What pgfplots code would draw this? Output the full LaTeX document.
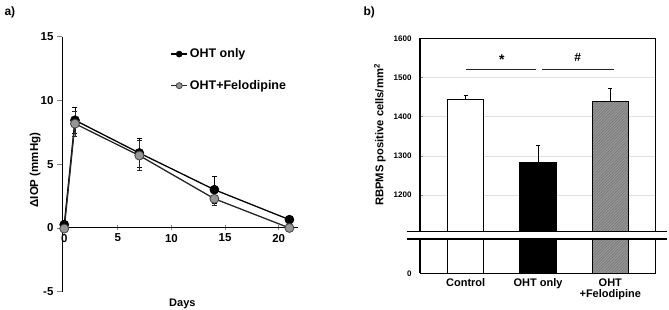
\documentclass[border=0pt]{standalone}
\usepackage{pgfplots}
\pgfplotsset{compat=1.18}
\usepackage{fontspec}
\setmainfont{Liberation Sans}
\usetikzlibrary{patterns.meta}
\newcommand{\fs}[1]{\fontsize{#1}{#1}\selectfont\bfseries}
\definecolor{felo}{RGB}{150,150,150}
\begin{document}
\begin{tikzpicture}
\useasboundingbox (0,0) rectangle (669pt,310pt);
\node[anchor=west] at (1pt,298pt) {\fs{12}a)};
\node[anchor=west] at (360pt,298pt) {\fs{12}b)};
% ---------- Panel a ----------
\begin{axis}[
  at={(62pt,18.3pt)}, anchor=south west, scale only axis,
  width=236pt, height=255pt,
  xmin=-0.21, xmax=21.8, ymin=-5, ymax=15,
  axis x line=middle, axis y line=left,
  axis line style={-, line width=0.9pt},
  hide obscured x ticks=false, hide obscured y ticks=false,
  xtick={0,5,10,15,20}, ytick={-5,0,5,10,15},
  tick style={line width=0.8pt},
  major tick length=5pt,
  xtick align=center, ytick align=outside,
  /pgf/number format/assume math mode=true,
  tick label style={font=\fs{11.5}},
  xlabel={Days}, ylabel={ΔIOP (mmHg)},
  xlabel style={font=\fs{11}, at={(axis description cs:0.51,0)}, anchor=north, yshift=-4pt},
  ylabel style={font=\fs{11.5}, at={(axis description cs:-0.114,0.477)}, anchor=center},
  legend style={draw=none, fill=none, at={(axis description cs:0.455,0.965)}, anchor=north west,
    font=\fs{12.5}, row sep=17pt, inner sep=1pt},
  legend cell align=left,
  legend image code/.code={\draw[#1, mark size=3pt, mark repeat=2, mark phase=2] plot coordinates {(0pt,0pt)(8pt,0pt)(16pt,0pt)};},
  clip=false,
]
\addplot[black, line width=1.3pt, mark=*, mark size=4.5pt, mark options={fill=black, line width=0.6pt},
  error bars/.cd, y dir=both, y explicit, error bar style={black, line width=0.8pt},
  error mark options={rotate=90, mark size=2.5pt, line width=0.8pt}]
  coordinates {(0,0.26) +- (0,0) (1,8.45) +- (0,1.0) (7,5.88) +- (0,1.15) (14,3.0) +- (0,1.05) (21,0.65) +- (0,0.1)};
\addlegendentry{OHT only}
\addplot[black!85, line width=1.3pt, mark=*, mark size=4.5pt, mark options={fill=felo, draw=black!75, line width=0.8pt},
  error bars/.cd, y dir=both, y explicit, error bar style={black!85, line width=0.8pt},
  error mark options={rotate=90, mark size=2.5pt, line width=0.8pt}]
  coordinates {(0,-0.05) +- (0,0) (1,8.18) +- (0,1.0) (7,5.68) +- (0,1.2) (14,2.29) +- (0,0.5) (21,0.0) +- (0,0.1)};
\addlegendentry{OHT+Felodipine}
\end{axis}
% ---------- Panel b: upper part ----------
\begin{axis}[
  at={(420pt,78.3pt)}, anchor=south west, scale only axis,
  width=235.7pt, height=193.4pt,
  xmin=-0.632, xmax=2.628, ymin=1107, ymax=1600,
  axis x line=top, axis y line=box,
  axis line style={-, line width=1.1pt},
  xtick=\empty, ytick={1200,1300,1400,1500,1600},
  ytick pos=left, ytick align=inside, major tick length=3pt,
  y tick style={black!50, line width=0.6pt},
  ymajorgrids, grid style={black!12, line width=0.8pt},
  /pgf/number format/assume math mode=true,
  /pgf/number format/1000 sep={},
  yticklabel style={font=\fs{8}, xshift=-5pt},
  ylabel={RBPMS positive cells/mm\textsuperscript{2}},
  ylabel style={font=\fs{11.2}, at={(axis description cs:-0.17,0.5)}, anchor=center},
  ybar, bar width=36pt,
  clip=false,
]
\addplot[bar shift=0pt, draw=black, line width=1.1pt, fill=white,
  error bars/.cd, y dir=plus, y explicit, error bar style={black, line width=1pt},
  error mark options={rotate=90, mark size=2pt, line width=1pt}]
  coordinates {(0,1443) +- (0,12)};
\addplot[bar shift=0pt, draw=black, line width=1.1pt, fill=black,
  error bars/.cd, y dir=plus, y explicit, error bar style={black, line width=1pt},
  error mark options={rotate=90, mark size=2pt, line width=1pt}]
  coordinates {(1,1283) +- (0,43)};
\addplot[bar shift=0pt, draw=black, line width=1.1pt, fill=felo,
  postaction={pattern={Lines[angle=45,distance=2pt,line width=0.5pt]}, pattern color=black!55},
  error bars/.cd, y dir=plus, y explicit, error bar style={black, line width=1pt},
  error mark options={rotate=90, mark size=2pt, line width=1pt}]
  coordinates {(2,1440) +- (0,31)};
\draw[line width=1.1pt, black!85] (axis cs:0.005,1521) -- (axis cs:0.97,1521);
\draw[line width=1.1pt, black!85] (axis cs:1.06,1521) -- (axis cs:2.045,1521);
\node[font=\fs{14}] at (axis cs:0.5,1546) {*};
\node[font=\fs{12}] at (axis cs:1.55,1550) {\#};
\end{axis}
% ---------- Panel b: lower part ----------
\begin{axis}[
  at={(420pt,36.7pt)}, anchor=south west, scale only axis,
  width=235.7pt, height=34.3pt,
  xmin=-0.632, xmax=2.628, ymin=0, ymax=100,
  axis x line=bottom, axis y line=box,
  axis line style={-, line width=1.1pt},
  xtick={0,1,2}, xticklabels={Control, OHT only, OHT\\+Felodipine},
  xticklabel style={font=\fs{11}, align=center, yshift=-2pt},
  ytick={0}, major tick length=0pt,
  /pgf/number format/assume math mode=true,
  yticklabel style={font=\fs{8}, xshift=-5pt},
  ybar, bar width=36pt,
]
\addplot[bar shift=0pt, draw=black, line width=1.1pt, fill=white] coordinates {(0,1443)};
\addplot[bar shift=0pt, draw=black, line width=1.1pt, fill=black] coordinates {(1,1283)};
\addplot[bar shift=0pt, draw=black, line width=1.1pt, fill=felo,
  postaction={pattern={Lines[angle=45,distance=2pt,line width=0.5pt]}, pattern color=black!55}] coordinates {(2,1440)};
\end{axis}
\draw[line width=1.3pt] (406.7pt,78.3pt) -- (666.7pt,78.3pt);
\draw[line width=1.3pt] (406.7pt,71pt) -- (666.7pt,71pt);
\end{tikzpicture}
\end{document}
